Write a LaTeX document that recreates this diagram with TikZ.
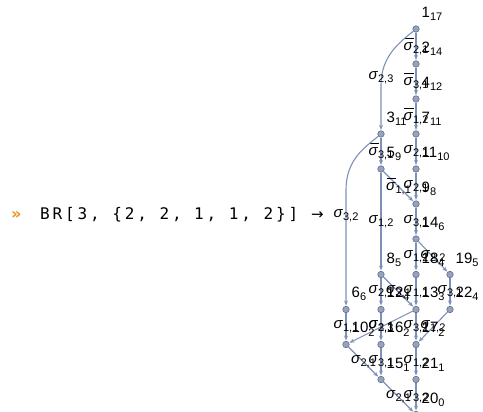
\documentclass[tikz,border=0pt]{standalone}
\usepackage{fontspec}
\setmainfont{Liberation Sans}
\newfontfamily\monofont[LetterSpace=18]{DejaVu Sans Mono}
\newfontfamily\symfont{DejaVu Sans}
\usetikzlibrary{arrows.meta,backgrounds}
\definecolor{ecol}{RGB}{125,145,184}
\definecolor{vfill}{RGB}{150,163,190}
\definecolor{vdraw}{RGB}{95,110,142}
\definecolor{prompt}{RGB}{232,150,30}
\newcommand\subf[1]{\raisebox{-3pt}{\fontsize{11}{11}\selectfont #1}}
\newcommand\sg[2]{\textit{σ}\subf{#1,#2}}
\newcommand\sgb[2]{\makebox[0pt][l]{\hspace{0.5pt}\rule[11pt]{9.5pt}{1.2pt}}\textit{σ}\subf{#1,#2}}
\newcommand\vl[2]{#1\subf{#2}}
\tikzset{
  vert/.style={circle, fill=vfill, draw=vdraw, line width=0.6pt, minimum size=6.5pt, inner sep=0pt},
  edge/.style={draw=ecol, line width=1.1pt, -{Stealth[length=5pt,width=4pt]}, shorten >=0.5pt},
  elab/.style={inner sep=0pt, font=\fontsize{15}{15}\selectfont},
  vlab/.style={anchor=base west, inner sep=0pt, font=\fontsize{15}{15}\selectfont},
}
\begin{document}
\begin{tikzpicture}[x=1pt,y=-1pt]
\useasboundingbox (0,0) rectangle (483,412);
% left text
\node[anchor=base west, inner sep=0pt, text=prompt, font=\symfont\bfseries\fontsize{16}{16}\selectfont] (pr) at (11,219) {»};
\node[anchor=base west, inner sep=0pt, font=\monofont\fontsize{16}{16}\selectfont] (br) at (40,219) {BR[3, \{2, 2, 1, 1, 2\}]};
\node[anchor=base west, inner sep=0pt, font=\symfont\fontsize{15}{15}\selectfont] (to) at (311,219) {→};
% vertices
\node[vert] (v1) at (416,29) {};
\node[vert] (v2) at (416,64) {};
\node[vert] (v4) at (416,99) {};
\node[vert] (v3) at (381,134) {};
\node[vert] (v7) at (416,134) {};
\node[vert] (v5) at (381,169) {};
\node[vert] (v11) at (416,169) {};
\node[vert] (v9) at (416,204) {};
\node[vert] (v14) at (416,239) {};
\node[vert] (v8) at (381,274.5) {};
\node[vert] (v18) at (416,274.5) {};
\node[vert] (v19) at (450,274.5) {};
\node[vert] (v6) at (346,309.5) {};
\node[vert] (v12) at (381,309.5) {};
\node[vert] (v13) at (416,309.5) {};
\node[vert] (v22) at (450,309.5) {};
\node[vert] (v10) at (346,344.5) {};
\node[vert] (v16) at (381,344.5) {};
\node[vert] (v17) at (416,344.5) {};
\node[vert] (v15) at (381,379.5) {};
\node[vert] (v21) at (416,379.5) {};
\node[vert] (v20) at (416,414.5) {};
% edges
\begin{pgfonlayer}{background}
\draw[edge] (v1) -- (v2) node[midway,elab]{\sgb{2}{1}};
\draw[edge] (v1) .. controls (400,42) and (381,56) .. (381,85) -- (v3);
\draw[edge] (v2) -- (v4) node[midway,elab]{\sgb{3}{1}};
\draw[edge] (v4) -- (v7) node[midway,elab]{\sgb{1}{2}};
\draw[edge] (v3) -- (v5) node[midway,elab]{\sgb{3}{1}};
\draw[edge] (v3) .. controls (364,148) and (346,160) .. (346,190) -- (v6);
\draw[edge] (v7) -- (v11) node[midway,elab]{\sg{2}{1}};
\draw[edge] (v5) -- (v9) node[midway,elab]{\sgb{1}{1}};
\draw[edge] (v11) -- (v9) node[midway,elab]{\sg{2}{1}};
\draw[edge] (v5) -- (v8) node[midway,elab]{\sg{1}{2}};
\draw[edge] (v9) -- (v14) node[midway,elab]{\sg{3}{1}};
\draw[edge] (v14) -- (v18) node[midway,elab]{\sg{1}{2}};
\draw[edge] (v14) -- (v19) node[midway,elab]{\sg{2}{2}};
\draw[edge] (v8) -- (v12) node[midway,elab]{\sg{2}{1}};
\draw[edge] (v8) -- (v13) node[midway,elab]{\sg{3}{1}};
\draw[edge] (v18) -- (v13) node[midway,elab]{\sg{1}{1}};
\draw[edge] (v19) -- (v22) node[midway,elab]{\sg{3}{1}};
\draw[edge] (v6) -- (v10) node[midway,elab]{\sg{1}{1}};
\draw[edge] (v12) -- (v16) node[midway,elab]{\sg{2}{3}};
\draw[edge] (v13) -- (v10) node[midway,elab]{\sg{3}{1}};
\draw[edge] (v13) -- (v17) node[midway,elab]{\sg{3}{2}};
\draw[edge] (v22) -- (v17) node[midway,elab]{\sg{1}{2}};
\draw[edge] (v10) -- (v15) node[midway,elab]{\sg{2}{1}};
\draw[edge] (v16) -- (v15) node[midway,elab]{\sg{3}{1}};
\draw[edge] (v17) -- (v21) node[midway,elab]{\sg{1}{2}};
\draw[edge] (v15) -- (v20) node[midway,elab]{\sg{2}{1}};
\draw[edge] (v21) -- (v20) node[midway,elab]{\sg{3}{2}};
\end{pgfonlayer}
\node[elab] (l13) at (381,78) {\sg{2}{3}};
\node[elab] (l36) at (346,216) {\sg{3}{2}};
% vertex labels
\path (v1) ++(5.5,-11.5) node[vlab]{\vl{1}{17}};
\path (v2) ++(5.5,-11.5) node[vlab]{\vl{2}{14}};
\path (v4) ++(5.5,-11.5) node[vlab]{\vl{4}{12}};
\path (v3) ++(5.5,-11.5) node[vlab]{\vl{3}{11}};
\path (v7) ++(5.5,-11.5) node[vlab]{\vl{7}{11}};
\path (v5) ++(5.5,-11.5) node[vlab]{\vl{5}{9}};
\path (v11) ++(5.5,-11.5) node[vlab]{\vl{11}{10}};
\path (v9) ++(5.5,-11.5) node[vlab]{\vl{9}{8}};
\path (v14) ++(5.5,-11.5) node[vlab]{\vl{14}{6}};
\path (v8) ++(5.5,-11.5) node[vlab]{\vl{8}{5}};
\path (v18) ++(5.5,-11.5) node[vlab]{\vl{18}{4}};
\path (v19) ++(5.5,-11.5) node[vlab]{\vl{19}{5}};
\path (v6) ++(5.5,-11.5) node[vlab]{\vl{6}{6}};
\path (v12) ++(5.5,-11.5) node[vlab]{\vl{12}{4}};
\path (v13) ++(5.5,-11.5) node[vlab]{\vl{13}{3}};
\path (v22) ++(5.5,-11.5) node[vlab]{\vl{22}{4}};
\path (v10) ++(5.5,-11.5) node[vlab]{\vl{10}{2}};
\path (v16) ++(5.5,-11.5) node[vlab]{\vl{16}{2}};
\path (v17) ++(5.5,-11.5) node[vlab]{\vl{17}{2}};
\path (v15) ++(5.5,-11.5) node[vlab]{\vl{15}{1}};
\path (v21) ++(5.5,-11.5) node[vlab]{\vl{21}{1}};
\path (v20) ++(5.5,-11.5) node[vlab]{\vl{20}{0}};
\end{tikzpicture}
\end{document}
